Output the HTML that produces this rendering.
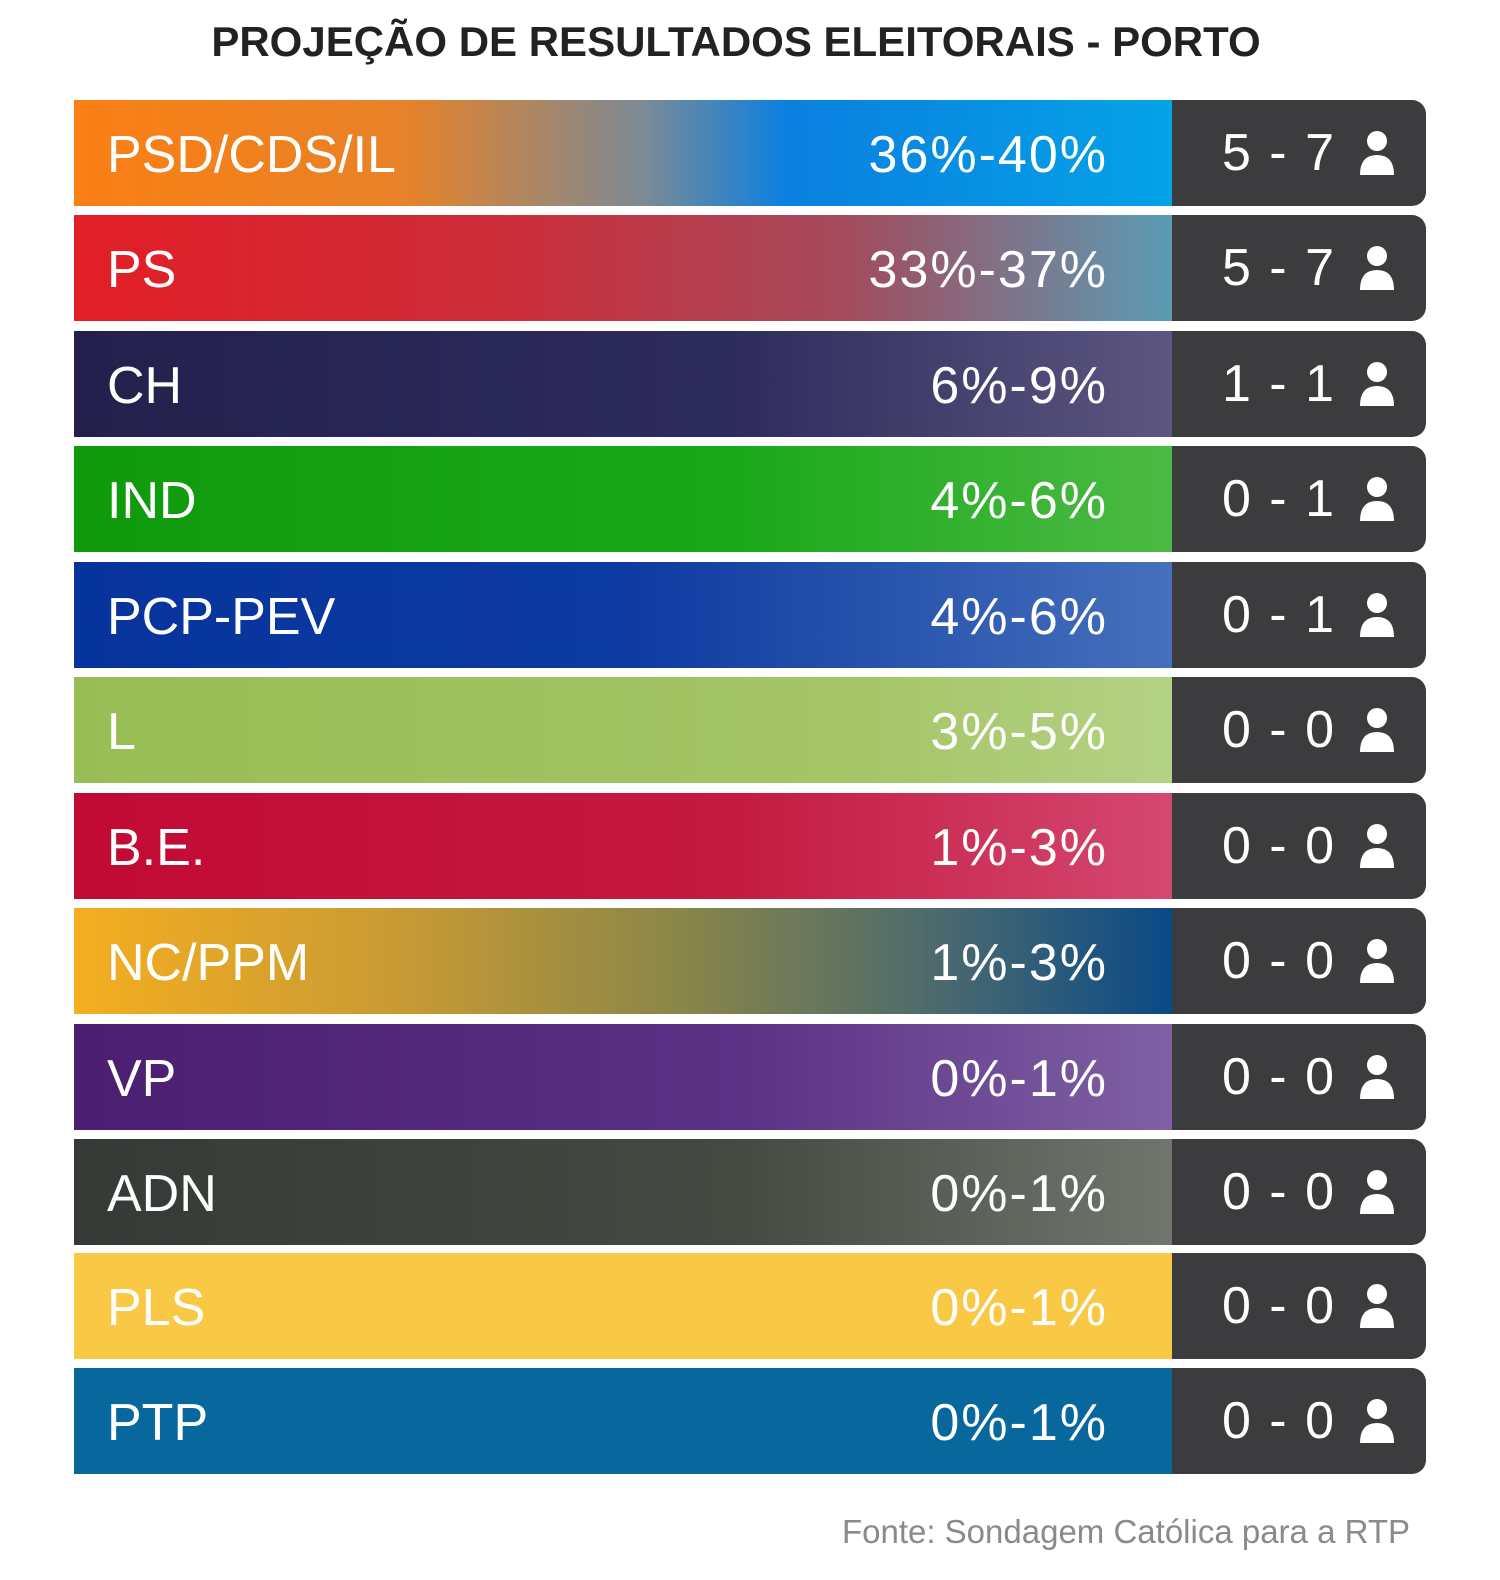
<!DOCTYPE html>
<html><head><meta charset="utf-8"><style>
body{margin:0;width:1500px;height:1580px;background:#fff;font-family:"Liberation Sans",sans-serif;position:relative;overflow:hidden}
.t{position:absolute;left:0;width:1472px;top:18px;text-align:center;font-weight:bold;font-size:42px;color:#222}
.r{position:absolute;left:74px;width:1352px;height:106px}
.c{position:absolute;left:0;top:0;width:1098px;height:106px}
.d{position:absolute;left:1098px;top:0;width:254px;height:106px;background:#3c3c3e;border-radius:0 14px 14px 0}
.n{position:absolute;left:33px;top:2px;line-height:106px;font-size:52px;color:#fff}
.p{position:absolute;right:318px;top:2px;line-height:106px;font-size:52px;color:#fff;letter-spacing:2px;z-index:2}
.s{position:absolute;right:90px;top:0;line-height:106px;font-size:52px;color:#fff;letter-spacing:2px}
.i{position:absolute;right:30px;top:31px;width:38px;height:44px}
.f{position:absolute;right:90px;top:1513px;font-size:33px;color:#8a8a8a}
</style></head><body>
<div class="t">PROJEÇÃO DE RESULTADOS ELEITORAIS - PORTO</div>
<div class="r" style="top:100px"><div class="c" style="background:linear-gradient(90deg,#fa7f14 0%,#e88228 30%,#7a8a96 52%,#0a80e0 65%,#04a2e6 100%)"></div><div class="n">PSD/CDS/IL</div><div class="p">36%-40%</div><div class="d"><div class="s">5 - 7</div><svg class="i" viewBox="0 0 38 44"><circle cx="19" cy="10" r="10" fill="#fff"/><path d="M2 44 Q2 24 19 24 Q36 24 36 44Z" fill="#fff"/></svg></div></div>
<div class="r" style="top:215px"><div class="c" style="background:linear-gradient(90deg,#e21e26 0%,#cc2e3a 40%,#a44a5c 70%,#5a9cb4 100%)"></div><div class="n">PS</div><div class="p">33%-37%</div><div class="d"><div class="s">5 - 7</div><svg class="i" viewBox="0 0 38 44"><circle cx="19" cy="10" r="10" fill="#fff"/><path d="M2 44 Q2 24 19 24 Q36 24 36 44Z" fill="#fff"/></svg></div></div>
<div class="r" style="top:331px"><div class="c" style="background:linear-gradient(90deg,#23204c 0%,#2e2c5c 60%,#5c5680 100%)"></div><div class="n">CH</div><div class="p">6%-9%</div><div class="d"><div class="s">1 - 1</div><svg class="i" viewBox="0 0 38 44"><circle cx="19" cy="10" r="10" fill="#fff"/><path d="M2 44 Q2 24 19 24 Q36 24 36 44Z" fill="#fff"/></svg></div></div>
<div class="r" style="top:446px"><div class="c" style="background:linear-gradient(90deg,#0f9a0c 0%,#1aa81a 60%,#4cba44 100%)"></div><div class="n">IND</div><div class="p">4%-6%</div><div class="d"><div class="s">0 - 1</div><svg class="i" viewBox="0 0 38 44"><circle cx="19" cy="10" r="10" fill="#fff"/><path d="M2 44 Q2 24 19 24 Q36 24 36 44Z" fill="#fff"/></svg></div></div>
<div class="r" style="top:562px"><div class="c" style="background:linear-gradient(90deg,#07349c 0%,#0d3aa0 50%,#4670bc 100%)"></div><div class="n">PCP-PEV</div><div class="p">4%-6%</div><div class="d"><div class="s">0 - 1</div><svg class="i" viewBox="0 0 38 44"><circle cx="19" cy="10" r="10" fill="#fff"/><path d="M2 44 Q2 24 19 24 Q36 24 36 44Z" fill="#fff"/></svg></div></div>
<div class="r" style="top:677px"><div class="c" style="background:linear-gradient(90deg,#99bd55 0%,#a4c466 70%,#b4d284 100%)"></div><div class="n">L</div><div class="p">3%-5%</div><div class="d"><div class="s">0 - 0</div><svg class="i" viewBox="0 0 38 44"><circle cx="19" cy="10" r="10" fill="#fff"/><path d="M2 44 Q2 24 19 24 Q36 24 36 44Z" fill="#fff"/></svg></div></div>
<div class="r" style="top:793px"><div class="c" style="background:linear-gradient(90deg,#c10a34 0%,#c41a40 60%,#d44870 100%)"></div><div class="n">B.E.</div><div class="p">1%-3%</div><div class="d"><div class="s">0 - 0</div><svg class="i" viewBox="0 0 38 44"><circle cx="19" cy="10" r="10" fill="#fff"/><path d="M2 44 Q2 24 19 24 Q36 24 36 44Z" fill="#fff"/></svg></div></div>
<div class="r" style="top:908px"><div class="c" style="background:linear-gradient(90deg,#f4ae20 0%,#c89a34 30%,#8a8648 55%,#486870 80%,#0a4a86 100%)"></div><div class="n">NC/PPM</div><div class="p">1%-3%</div><div class="d"><div class="s">0 - 0</div><svg class="i" viewBox="0 0 38 44"><circle cx="19" cy="10" r="10" fill="#fff"/><path d="M2 44 Q2 24 19 24 Q36 24 36 44Z" fill="#fff"/></svg></div></div>
<div class="r" style="top:1024px"><div class="c" style="background:linear-gradient(90deg,#4a1e70 0%,#5a3184 60%,#8060a4 100%)"></div><div class="n">VP</div><div class="p">0%-1%</div><div class="d"><div class="s">0 - 0</div><svg class="i" viewBox="0 0 38 44"><circle cx="19" cy="10" r="10" fill="#fff"/><path d="M2 44 Q2 24 19 24 Q36 24 36 44Z" fill="#fff"/></svg></div></div>
<div class="r" style="top:1139px"><div class="c" style="background:linear-gradient(90deg,#363a36 0%,#444a42 60%,#70766e 100%)"></div><div class="n">ADN</div><div class="p">0%-1%</div><div class="d"><div class="s">0 - 0</div><svg class="i" viewBox="0 0 38 44"><circle cx="19" cy="10" r="10" fill="#fff"/><path d="M2 44 Q2 24 19 24 Q36 24 36 44Z" fill="#fff"/></svg></div></div>
<div class="r" style="top:1253px"><div class="c" style="background:#f9c945"></div><div class="n">PLS</div><div class="p">0%-1%</div><div class="d"><div class="s">0 - 0</div><svg class="i" viewBox="0 0 38 44"><circle cx="19" cy="10" r="10" fill="#fff"/><path d="M2 44 Q2 24 19 24 Q36 24 36 44Z" fill="#fff"/></svg></div></div>
<div class="r" style="top:1368px"><div class="c" style="background:#08679c"></div><div class="n">PTP</div><div class="p">0%-1%</div><div class="d"><div class="s">0 - 0</div><svg class="i" viewBox="0 0 38 44"><circle cx="19" cy="10" r="10" fill="#fff"/><path d="M2 44 Q2 24 19 24 Q36 24 36 44Z" fill="#fff"/></svg></div></div>
<div class="f">Fonte: Sondagem Católica para a RTP</div>
</body></html>
